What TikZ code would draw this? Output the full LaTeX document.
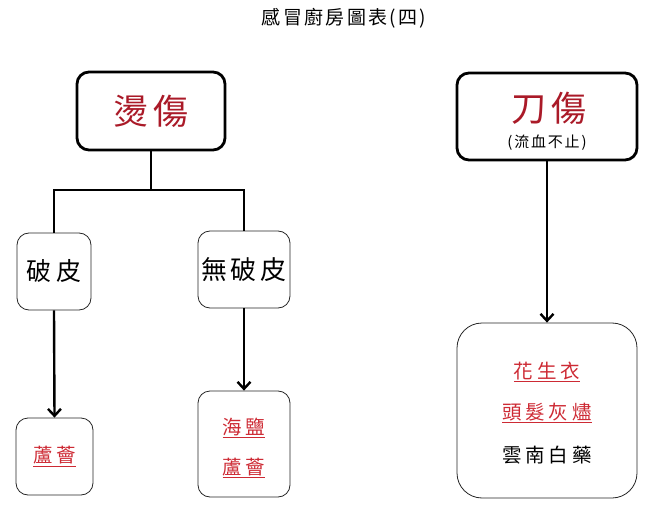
\documentclass[tikz,border=0pt]{standalone}
\usepackage{fontspec}
\newfontfamily\cjk{Noto Sans CJK TC}[LetterSpace=12]
\newfontfamily\cjkwide{Noto Sans CJK TC}[LetterSpace=20]
\usetikzlibrary{arrows.meta}
\definecolor{burnred}{RGB}{170,26,40}
\definecolor{curered}{RGB}{205,42,52}

\begin{document}
\begin{tikzpicture}[x=1pt,y=-1pt,
  mainbox/.style={draw=black, line width=2.8pt, rounded corners=12pt},
  subbox/.style={draw=black!85, line width=0.8pt, rounded corners=12pt},
  link/.style={black, line width=2.4pt},
  flow/.style={link, -{Straight Barb[length=7pt,width=13pt,line width=2.4pt]}},
  bigname/.style={text=burnred, font=\cjk\fontsize{35}{35}\selectfont},
  kind/.style={font=\cjkwide\fontsize{25}{25}\selectfont},
  curetext/.style={text=curered, font=\cjkwide\fontsize{19.5}{19.5}\selectfont},
  plaintext/.style={font=\cjkwide\fontsize{19.5}{19.5}\selectfont}]
\useasboundingbox (0,0) rectangle (655,510);

% title
\node[font=\cjk\fontsize{19}{19}\selectfont] (title) at (344,18) {感冒廚房圖表(四)};

% burns
\node[mainbox, bigname, minimum width=148, minimum height=78] (burn) at (151,111) {燙傷};
\node[subbox, kind, minimum width=74, minimum height=77, inner sep=1pt] (broken) at (54,271.5) {破皮};
\node[subbox, kind, minimum width=92, minimum height=77, inner sep=1pt, font=\cjk\fontsize{26}{26}\selectfont] (unbroken) at (244,269.5) {無破皮};
\node[subbox, curetext, minimum width=77, minimum height=77] (aloe) at (54.5,456.5) {\underline{蘆薈}};
\node[subbox, minimum width=92, minimum height=106] (salt) at (244,444) {};
\node[curetext] (salttext) at (244,428) {\underline{海鹽}};
\node[curetext] (saltaloe) at (244,468) {\underline{蘆薈}};

\coordinate (split) at (151,190);
\draw[link] (burn.south) -- (split);
\draw[link] (broken.north) |- (split) -| (unbroken.north);
\draw[flow] (broken.south) -- (aloe.north);
\draw[flow] (unbroken.south) -- (salt.north);

% cuts
\node[mainbox, minimum width=180, minimum height=87] (cut) at (547,116.5) {};
\node[bigname] (cutname) at (549,108) {刀傷};
\node[font=\cjk\fontsize{15}{15}\selectfont] (cutnote) at (547,143) {(流血不止)};
\node[subbox, minimum width=180, minimum height=175, rounded corners=25pt] (remedy) at (547,410.5) {};
\node[curetext] (peanut) at (547,372) {\underline{花生衣}};
\node[curetext] (hairash) at (547,413) {\underline{頭髮灰燼}};
\node[plaintext] (yunnan) at (547,455) {雲南白藥};

\draw[flow] (cut.south) -- (remedy.north);
\end{tikzpicture}
\end{document}
